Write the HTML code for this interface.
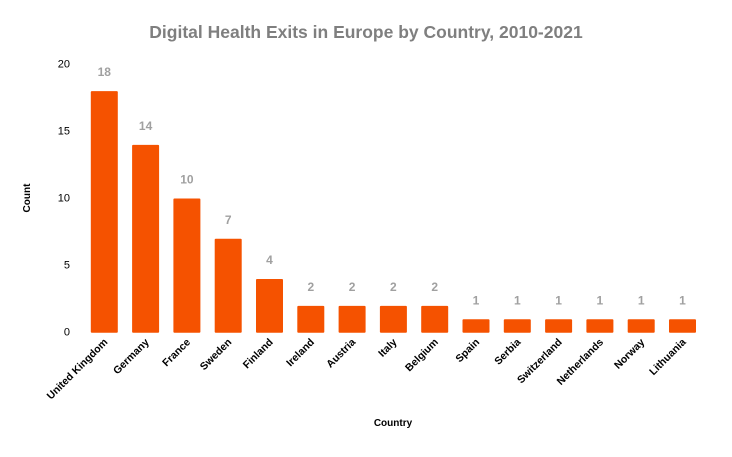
<!DOCTYPE html>
<html><head><meta charset="utf-8"><style>
body{margin:0;background:#fff;}
svg text{font-family:"Liberation Sans",sans-serif;}
</style></head><body>
<svg width="732" height="452" viewBox="0 0 732 452">
<text x="366" y="38" text-anchor="middle" font-size="17.5" font-weight="bold" fill="#7f7f7f">Digital Health Exits in Europe by Country, 2010-2021</text>
<g id="yaxis"></g>
<g id="bars"></g>
<g id="xaxis"></g>
<text x="30" y="198" transform="rotate(-90 30 198)" text-anchor="middle" font-size="10" font-weight="bold" fill="#000">Count</text>
<text x="393" y="426" text-anchor="middle" font-size="10" font-weight="bold" fill="#000">Country</text>
</svg>
<script>
const categories=["United Kingdom","Germany","France","Sweden","Finland","Ireland","Austria","Italy","Belgium","Spain","Serbia","Switzerland","Netherlands","Norway","Lithuania"];
const values=[18,14,10,7,4,2,2,2,2,1,1,1,1,1,1];
const yTicks=[0,5,10,15,20];
const NS="http://www.w3.org/2000/svg";
const y0=332.7,ppu=13.42,x0=104.3,step=41.3,bw=27;
const y=v=>y0-v*ppu, x=i=>x0+i*step;
function mk(tag,attrs,parent,txt){const e=document.createElementNS(NS,tag);for(const k in attrs)e.setAttribute(k,attrs[k]);if(txt!==undefined)e.textContent=txt;parent.appendChild(e);return e;}
const ya=document.getElementById('yaxis'),bars=document.getElementById('bars'),xa=document.getElementById('xaxis');
yTicks.forEach(t=>{const e=mk('text',{x:70,y:y(t)+3,'text-anchor':'end','font-size':'11',fill:'#000'},ya,t);

});
values.forEach((v,i)=>{
const r=mk('rect',{x:x(i)-bw/2,y:y(v),width:bw,height:v*ppu,fill:'#F55200',rx:1},bars);


const l=mk('text',{x:x(i),y:y(v)-15,'text-anchor':'middle','font-size':'12','font-weight':'bold',fill:'#a0a0a0'},bars,v);


const tx=x(i)+4,ty=y0+10;
const c=mk('text',{x:tx,y:ty,'text-anchor':'end','font-size':'10.5','font-weight':'bold',fill:'#000',transform:`rotate(-45 ${tx} ${ty})`},xa,categories[i]);


});
</script>
</body></html>
